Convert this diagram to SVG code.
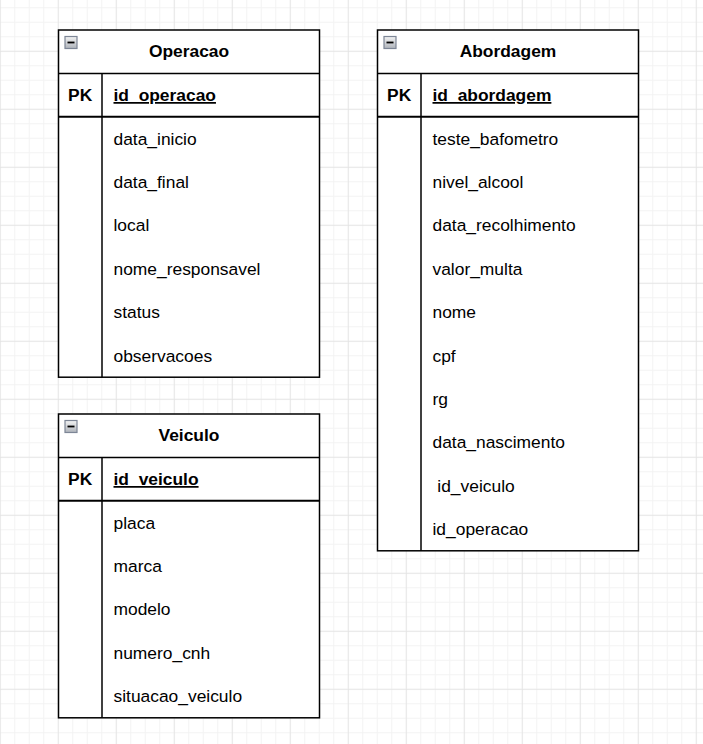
<svg xmlns="http://www.w3.org/2000/svg" width="703" height="744" viewBox="0 0 703 744">
<style>
.box{fill:#ffffff;stroke:#000;stroke-width:1.5}
.ln{stroke:#000;stroke-width:1.5;fill:none}
.pkln{stroke:#000;stroke-width:2;fill:none}
.title{font-family:"Liberation Sans",Arial,sans-serif;font-size:17.4px;font-weight:bold;fill:#000;text-anchor:middle}
.pk{font-family:"Liberation Sans",Arial,sans-serif;font-size:17.4px;font-weight:bold;fill:#000;text-anchor:middle}
.pkf{font-family:"Liberation Sans",Arial,sans-serif;font-size:17.4px;font-weight:bold;fill:#000;text-decoration:underline}
.f{font-family:"Liberation Sans",Arial,sans-serif;font-size:17.4px;fill:#000;white-space:pre}
.ic{fill:url(#icg);stroke:#7d8696;stroke-width:1.2}
.icm{stroke:#000;stroke-width:1.8}
.gmin{stroke:#f3f3f3;stroke-width:1}
.gmaj{stroke:#e3e3e3;stroke-width:1}
</style>
<defs>
<linearGradient id="icg" x1="0" y1="0" x2="0" y2="1">
<stop offset="0" stop-color="#f4f4f4"/>
<stop offset="1" stop-color="#aeb3ba"/>
</linearGradient>
<pattern id="grid" x="-6.95" y="-13.95" width="58" height="58" patternUnits="userSpaceOnUse">
<path class="gmin" d="M21.75 0V58M36.25 0V58M50.75 0V58M0 21.75H58M0 36.25H58M0 50.75H58"/>
<path class="gmaj" d="M7.25 0V58M0 7.25H58"/>
</pattern>
</defs>
<rect width="703" height="744" fill="#ffffff"/>
<rect width="703" height="744" fill="url(#grid)"/>
<g id="connectors"/>
<g id="operacao">
<rect class="box" x="58.5" y="30" width="261" height="347.2"/>
<line class="ln" x1="58.5" y1="73.4" x2="319.5" y2="73.4"/>
<line class="pkln" x1="58.5" y1="116.8" x2="319.5" y2="116.8"/>
<line class="ln" x1="102" y1="73.4" x2="102" y2="377.2"/>
<rect class="ic" x="65" y="36.5" width="12" height="12"/>
<line class="icm" x1="67.5" y1="42.5" x2="74.5" y2="42.5"/>
<text class="title" x="189" y="57">Operacao</text>
<text class="pk" x="80.2" y="101">PK</text>
<text class="pkf" x="113.5" y="101">id_operacao</text>
<text class="f" x="113.5" y="144.5">data_inicio</text>
<text class="f" x="113.5" y="187.9">data_final</text>
<text class="f" x="113.5" y="231.3">local</text>
<text class="f" x="113.5" y="274.7">nome_responsavel</text>
<text class="f" x="113.5" y="318.1">status</text>
<text class="f" x="113.5" y="361.5">observacoes</text>
</g>
<g id="veiculo">
<rect class="box" x="58.5" y="414" width="261" height="303.8"/>
<line class="ln" x1="58.5" y1="457.4" x2="319.5" y2="457.4"/>
<line class="pkln" x1="58.5" y1="500.8" x2="319.5" y2="500.8"/>
<line class="ln" x1="102" y1="457.4" x2="102" y2="717.8"/>
<rect class="ic" x="65" y="420.5" width="12" height="12"/>
<line class="icm" x1="67.5" y1="426.5" x2="74.5" y2="426.5"/>
<text class="title" x="189" y="441">Veiculo</text>
<text class="pk" x="80.2" y="485">PK</text>
<text class="pkf" x="113.5" y="485">id_veiculo</text>
<text class="f" x="113.5" y="528.5">placa</text>
<text class="f" x="113.5" y="571.9">marca</text>
<text class="f" x="113.5" y="615.3">modelo</text>
<text class="f" x="113.5" y="658.7">numero_cnh</text>
<text class="f" x="113.5" y="702.1">situacao_veiculo</text>
</g>
<g id="abordagem">
<rect class="box" x="377.5" y="30" width="261" height="520.8"/>
<line class="ln" x1="377.5" y1="73.4" x2="638.5" y2="73.4"/>
<line class="pkln" x1="377.5" y1="116.8" x2="638.5" y2="116.8"/>
<line class="ln" x1="421" y1="73.4" x2="421" y2="550.8"/>
<rect class="ic" x="384" y="36.5" width="12" height="12"/>
<line class="icm" x1="386.5" y1="42.5" x2="393.5" y2="42.5"/>
<text class="title" x="508" y="57">Abordagem</text>
<text class="pk" x="399.2" y="101">PK</text>
<text class="pkf" x="432.5" y="101">id_abordagem</text>
<text class="f" x="432.5" y="144.5">teste_bafometro</text>
<text class="f" x="432.5" y="187.9">nivel_alcool</text>
<text class="f" x="432.5" y="231.3">data_recolhimento</text>
<text class="f" x="432.5" y="274.7">valor_multa</text>
<text class="f" x="432.5" y="318.1">nome</text>
<text class="f" x="432.5" y="361.5">cpf</text>
<text class="f" x="432.5" y="404.9">rg</text>
<text class="f" x="432.5" y="448.3">data_nascimento</text>
<text class="f" x="432.5" y="491.7" xml:space="preserve"> id_veiculo</text>
<text class="f" x="432.5" y="535.1">id_operacao</text>
</g>
</svg>
